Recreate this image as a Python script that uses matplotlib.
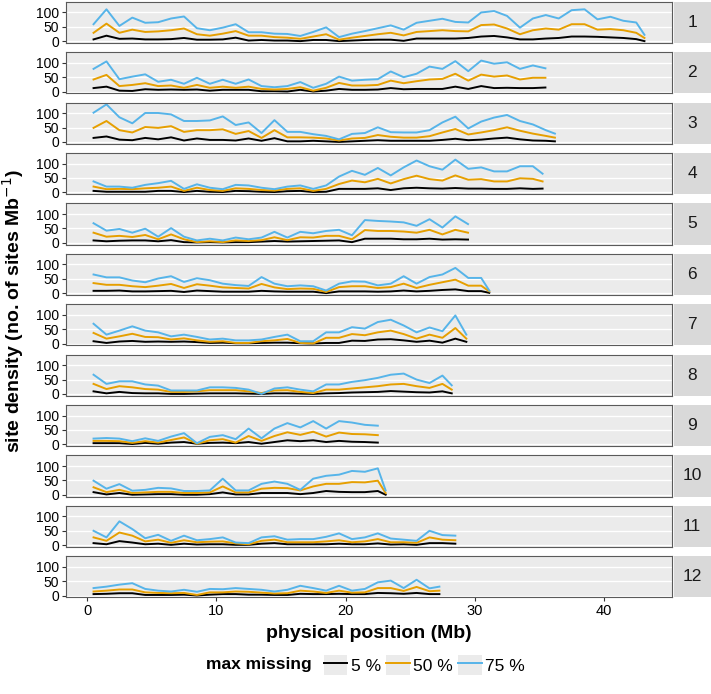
import numpy as np
import matplotlib
matplotlib.use("Agg")
import matplotlib.pyplot as plt
from matplotlib.lines import Line2D
from matplotlib.patches import Rectangle

plt.rcParams['font.family'] = ['Liberation Sans', 'DejaVu Sans']

# chromosome names and lengths (Mb); density values per 1 Mb bin
chrom_names = ['1', '2', '3', '4', '5', '6', '7', '8', '9', '10', '11', '12']
chrom_length = [43.27, 35.94, 36.41, 35.50, 29.96, 31.25, 29.70, 28.44, 23.01, 23.21, 29.02, 27.53]

miss5 = [
    [6, 19, 8, 9, 6, 6, 7, 11, 5, 5, 6, 12, 2, 4, 2, 2, 0, 4, 4, 0, 2, 4, 5, 5, 1, 9, 9, 9, 9, 11, 16, 18, 13, 6, 6, 9, 11, 16, 16, 15, 13, 11, 7, 0],
    [12, 17, 3, 2, 8, 6, 7, 6, 7, 3, 6, 6, 6, 1, 1, 0, 6, 0, 3, 9, 6, 6, 7, 12, 8, 9, 9, 9, 17, 9, 19, 12, 13, 12, 12, 14],
    [14, 19, 8, 6, 14, 9, 16, 5, 12, 7, 7, 5, 12, 4, 13, 2, 2, 4, 2, 0, 2, 4, 6, 4, 4, 4, 4, 7, 11, 6, 8, 12, 15, 9, 5, 4, 2],
    [5, 2, 2, 2, 2, 5, 5, 1, 5, 2, 1, 5, 4, 2, 1, 4, 5, 1, 2, 12, 12, 12, 14, 8, 14, 16, 14, 13, 15, 13, 13, 12, 12, 14, 12, 13],
    [8, 5, 7, 8, 8, 5, 9, 2, 1, 2, 1, 2, 2, 4, 6, 4, 5, 6, 7, 8, 2, 14, 14, 14, 12, 12, 14, 11, 12, 11],
    [8, 8, 9, 6, 6, 7, 8, 4, 9, 7, 5, 5, 5, 8, 6, 5, 5, 5, 0, 6, 6, 6, 5, 6, 9, 6, 8, 11, 13, 7, 7, 1],
    [8, 2, 7, 9, 6, 7, 6, 7, 5, 2, 3, 1, 1, 2, 3, 3, 1, 0, 2, 2, 10, 9, 14, 15, 11, 6, 10, 3, 17, 6],
    [9, 2, 7, 3, 2, 2, 0, 0, 1, 2, 2, 2, 1, 0, 2, 2, 1, 0, 2, 3, 5, 6, 7, 10, 8, 6, 5, 9, 2],
    [4, 4, 4, 1, 5, 2, 6, 8, 2, 5, 6, 4, 8, 2, 8, 14, 11, 14, 8, 12, 9, 8, 6],
    [9, 1, 6, 0, 1, 2, 2, 0, 0, 2, 8, 1, 1, 6, 6, 6, 2, 6, 13, 10, 9, 9, 13, 0],
    [7, 3, 14, 9, 3, 5, 1, 5, 2, 3, 3, 1, 1, 5, 7, 3, 3, 3, 3, 5, 3, 3, 6, 2, 3, 1, 7, 7, 5],
    [5, 6, 8, 8, 2, 2, 2, 3, 0, 3, 5, 5, 3, 3, 2, 2, 6, 5, 5, 6, 5, 5, 9, 8, 6, 9, 5, 5],
]

miss50 = [
    [29, 61, 29, 40, 32, 34, 38, 44, 24, 19, 26, 35, 19, 19, 14, 12, 8, 16, 24, 5, 12, 18, 24, 29, 20, 32, 35, 38, 35, 34, 56, 58, 44, 24, 38, 44, 40, 59, 59, 40, 42, 38, 29, 11],
    [42, 58, 19, 23, 29, 19, 21, 13, 23, 13, 17, 13, 17, 9, 7, 9, 15, 3, 13, 30, 21, 21, 23, 38, 29, 36, 42, 44, 62, 38, 59, 52, 56, 42, 48, 48],
    [49, 73, 41, 33, 52, 49, 55, 35, 41, 41, 44, 28, 38, 14, 41, 16, 16, 15, 12, 5, 12, 14, 24, 18, 15, 15, 20, 33, 45, 26, 33, 41, 51, 39, 29, 21, 15],
    [20, 11, 12, 11, 14, 16, 20, 5, 16, 8, 5, 14, 12, 8, 6, 12, 14, 5, 12, 29, 41, 35, 47, 31, 46, 58, 46, 41, 59, 44, 46, 38, 38, 49, 47, 38],
    [35, 21, 24, 20, 27, 12, 29, 12, 2, 5, 2, 8, 6, 9, 19, 9, 19, 18, 24, 24, 12, 44, 41, 41, 39, 35, 45, 29, 45, 35],
    [35, 29, 29, 24, 21, 26, 32, 18, 31, 26, 20, 18, 16, 32, 20, 14, 16, 15, 4, 21, 24, 24, 18, 21, 33, 18, 29, 38, 47, 26, 26, 6],
    [37, 17, 25, 34, 23, 22, 14, 18, 11, 6, 8, 2, 2, 8, 11, 16, 2, 0, 20, 20, 33, 29, 39, 45, 33, 17, 31, 20, 54, 17],
    [35, 17, 27, 23, 17, 15, 7, 7, 9, 13, 13, 13, 9, 3, 12, 13, 7, 3, 15, 15, 19, 23, 27, 33, 35, 27, 21, 35, 15],
    [12, 12, 11, 5, 11, 6, 15, 24, 2, 14, 18, 6, 29, 12, 29, 42, 33, 44, 27, 41, 36, 35, 32],
    [26, 9, 17, 6, 8, 10, 10, 6, 6, 8, 29, 8, 8, 21, 24, 23, 15, 29, 38, 38, 44, 43, 49, 6],
    [27, 15, 44, 33, 13, 19, 8, 17, 10, 12, 13, 6, 3, 15, 19, 10, 10, 10, 13, 17, 10, 13, 21, 10, 10, 8, 27, 19, 17],
    [14, 17, 21, 21, 11, 9, 8, 9, 2, 11, 11, 14, 13, 10, 7, 8, 17, 14, 9, 17, 10, 11, 26, 26, 16, 30, 15, 17],
]

miss75 = [
    [59, 111, 53, 82, 64, 66, 79, 86, 45, 38, 47, 59, 31, 31, 26, 25, 18, 32, 48, 14, 26, 35, 45, 55, 40, 64, 71, 78, 67, 65, 100, 105, 88, 47, 79, 91, 79, 108, 111, 76, 85, 71, 65, 22],
    [79, 105, 43, 52, 60, 34, 41, 27, 48, 27, 41, 27, 42, 19, 15, 19, 33, 13, 27, 52, 38, 41, 43, 70, 50, 62, 87, 79, 106, 71, 108, 97, 102, 79, 91, 81],
    [102, 131, 86, 65, 101, 101, 96, 73, 73, 75, 89, 59, 68, 31, 76, 35, 35, 27, 21, 9, 28, 31, 51, 34, 33, 33, 41, 68, 88, 47, 71, 85, 94, 73, 61, 41, 29],
    [38, 20, 20, 16, 26, 32, 40, 12, 28, 16, 11, 26, 24, 16, 11, 20, 24, 12, 24, 55, 75, 61, 85, 59, 87, 111, 91, 79, 114, 82, 87, 73, 73, 91, 91, 65],
    [68, 42, 48, 35, 49, 21, 51, 21, 8, 14, 8, 18, 12, 18, 38, 18, 38, 33, 41, 45, 26, 79, 76, 74, 71, 59, 82, 53, 92, 65],
    [65, 55, 55, 44, 38, 51, 59, 39, 52, 45, 33, 28, 25, 56, 33, 24, 27, 24, 9, 33, 41, 40, 27, 33, 59, 33, 56, 65, 88, 53, 53, 9],
    [69, 31, 45, 60, 45, 39, 25, 31, 23, 14, 17, 11, 11, 14, 23, 31, 8, 8, 39, 39, 57, 52, 75, 83, 63, 39, 56, 43, 98, 31],
    [67, 35, 44, 44, 33, 29, 12, 12, 12, 23, 23, 21, 15, 0, 19, 23, 15, 9, 33, 33, 42, 48, 56, 67, 71, 50, 38, 64, 30],
    [20, 22, 20, 11, 21, 12, 27, 39, 4, 26, 32, 18, 55, 21, 55, 74, 59, 81, 55, 81, 76, 68, 65],
    [49, 21, 37, 14, 17, 24, 22, 13, 13, 15, 56, 15, 15, 38, 46, 38, 17, 56, 66, 70, 83, 80, 92, 15],
    [50, 27, 83, 56, 24, 36, 15, 33, 17, 21, 27, 9, 7, 27, 31, 19, 21, 21, 29, 41, 21, 27, 41, 23, 19, 15, 50, 35, 33],
    [26, 31, 38, 43, 23, 17, 14, 20, 13, 23, 22, 26, 23, 20, 14, 20, 34, 26, 17, 34, 17, 23, 46, 52, 26, 55, 25, 31],
]

series = [miss5, miss50, miss75]
series_labels = ['5 %', '50 %', '75 %']
series_colors = ['#000000', '#E69F00', '#56B4E9']

W, H = 711, 694
fig = plt.figure(figsize=(W / 100, H / 100), dpi=100)

left, right = 66, 672
p_top0, p_pitch, p_h = 1.7, 50.4, 41.3

axes = []
for i, name in enumerate(chrom_names):
    top = p_top0 + p_pitch * i
    rect = [left / W, 1 - (top + p_h) / H, (right - left) / W, p_h / H]
    ax = fig.add_axes(rect, sharex=axes[0] if axes else None, sharey=axes[0] if axes else None)
    axes.append(ax)

    L = chrom_length[i]
    n = len(miss5[i])
    x = np.array([min(k + 0.5, (k + L) / 2) for k in range(n)])
    for vals, col in zip(series, series_colors):
        ax.plot(x, vals[i], color=col, lw=1.4, solid_joinstyle='round')

    ax.set_facecolor('#EBEBEB')
    ax.grid(axis='y', color='white', lw=1.0)
    ax.set_axisbelow(True)
    for s in ax.spines.values():
        s.set_color('#5A5A5A')
        s.set_linewidth(0.8)
    ax.set_yticks([0, 50, 100])
    ax.tick_params(axis='y', length=3, width=0.8, color='#333333', labelsize=10, pad=2)
    ax.set_xticks([0, 10, 20, 30, 40])
    if i < len(chrom_names) - 1:
        ax.tick_params(axis='x', bottom=False, labelbottom=False)
    else:
        ax.tick_params(axis='x', length=3, width=0.8, color='#333333', labelsize=10.5, pad=2)

    # facet strip
    sax = fig.add_axes([673.5 / W, 1 - (top + p_h) / H, 37.5 / W, p_h / H])
    sax.set_facecolor('#D9D9D9')
    sax.set_xticks([])
    sax.set_yticks([])
    for s in sax.spines.values():
        s.set_visible(False)
    sax.text(0.5, 0.5, name, ha='center', va='center', fontsize=12.5, color='#1A1A1A',
             transform=sax.transAxes)

fig.text((left + right) / 2 / W, 1 - 633 / H, 'physical position (Mb)',
         ha='center', va='center', fontsize=14, fontweight='bold')
fig.text(13 / W, 1 - 311 / H, 'site density (no. of sites Mb$^{-1}$)',
         ha='center', va='center', rotation=90, fontsize=14, fontweight='bold')

# legend
fig.text(206 / W, 1 - 665 / H, 'max missing', ha='left', va='center',
         fontsize=12.5, fontweight='bold')
handles = [(Rectangle((0, 0), 1, 1, fc='#EBEBEB', ec='none'), Line2D([], [], color=c, lw=1.4))
           for c in series_colors]
fig.legend(handles, series_labels, ncol=3, loc='center left',
           bbox_to_anchor=(324 / W, 1 - 665 / H), frameon=False, fontsize=12.5,
           handlelength=1.35, handleheight=1.35, handletextpad=0.2,
           columnspacing=0.3, borderpad=0, borderaxespad=0)

fig.savefig('out.png', dpi=100)
